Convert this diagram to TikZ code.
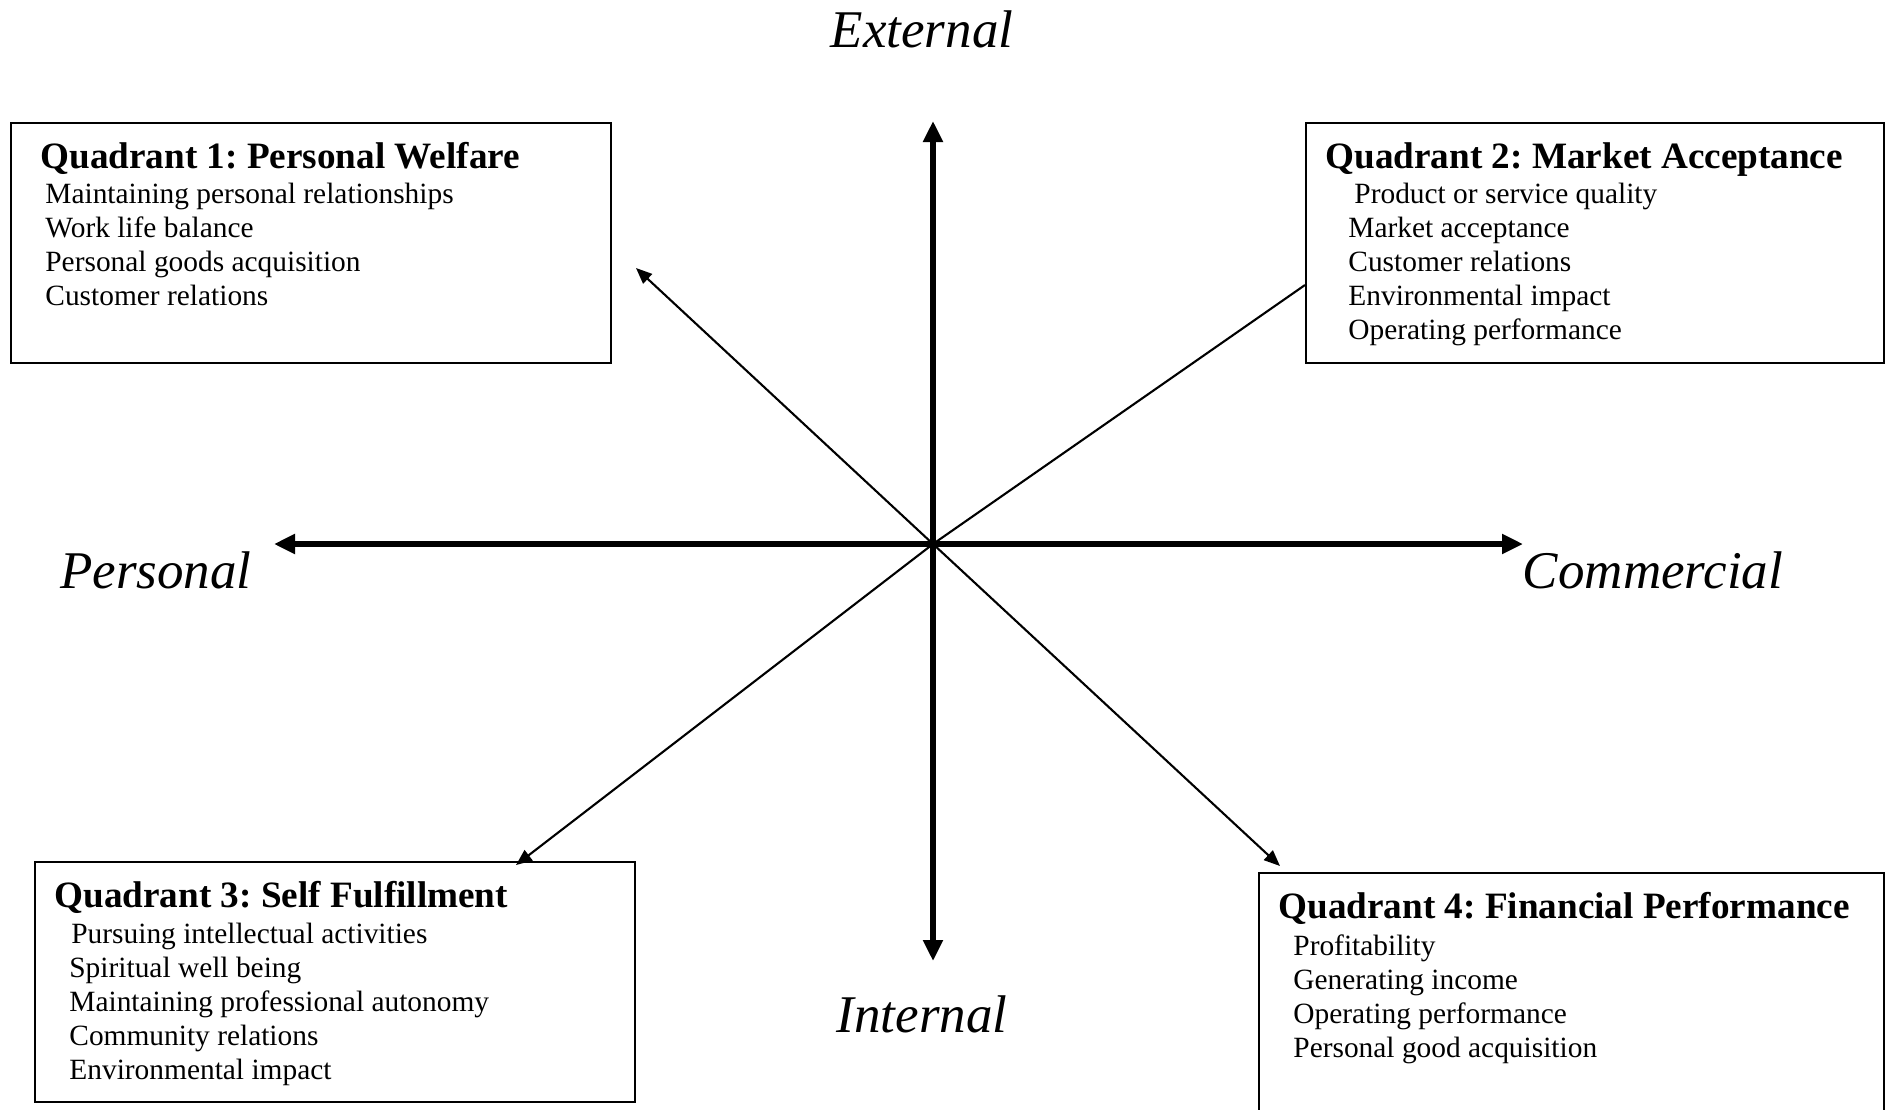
\documentclass[tikz,border=0pt]{standalone}
\usepackage{fontspec}
\setmainfont{Liberation Serif}
\usetikzlibrary{arrows.meta}
\frenchspacing
\begin{document}
\begin{tikzpicture}[x=0.5pt,y=-0.5pt,
  quadbox/.style={draw, line width=1pt, rectangle, inner sep=0pt, anchor=north west},
  axis/.style={line width=2.6pt, -{Triangle[length=10.5pt,width=9.5pt]}},
  spoke/.style={line width=1.05pt, -{Triangle[length=8pt,width=6.5pt]}},
  heading/.style={font=\bfseries\fontsize{18.6}{22}\selectfont, anchor=base west, inner sep=0pt},
  item/.style={font=\fontsize{14.7}{17}\selectfont, anchor=base west, inner sep=0pt},
  pole/.style={font=\itshape\fontsize{26.5}{30}\selectfont, anchor=base, inner sep=0pt}]
\useasboundingbox (0,0) rectangle (1891,1109);
\clip (0,0) rectangle (1891,1109);

% quadrant boxes
\node[quadbox, minimum width=300pt, minimum height=120pt] (q1box) at (10,122) {};
\node[quadbox, minimum width=289pt, minimum height=120pt] (q2box) at (1305,122) {};
\node[quadbox, minimum width=300pt, minimum height=120pt] (q3box) at (34,861) {};
\node[quadbox, minimum width=312.5pt, minimum height=134pt] (q4box) at (1258,872) {};

% quadrant 1
\node[heading] (q1t) at (40,168) {Quadrant 1: Personal Welfare};
\node[item] (q1a) at (45,203) {Maintaining personal relationships};
\node[item] (q1b) at (45,237) {Work life balance};
\node[item] (q1c) at (45,271) {Personal goods acquisition};
\node[item] (q1d) at (45,305) {Customer relations};

% quadrant 2
\node[heading] (q2t) at (1325,168) {Quadrant 2: Market Acceptance};
\node[item] (q2a) at (1354,203) {Product or service quality};
\node[item] (q2b) at (1348,237) {Market acceptance};
\node[item] (q2c) at (1348,271) {Customer relations};
\node[item] (q2d) at (1348,305) {Environmental impact};
\node[item] (q2e) at (1348,339) {Operating performance};

% quadrant 3
\node[heading] (q3t) at (54,907) {Quadrant 3: Self Fulfillment};
\node[item] (q3a) at (71,943) {Pursuing intellectual activities};
\node[item] (q3b) at (69,977) {Spiritual well being};
\node[item] (q3c) at (69,1011) {Maintaining professional autonomy};
\node[item] (q3d) at (69,1045) {Community relations};
\node[item] (q3e) at (69,1079) {Environmental impact};

% quadrant 4
\node[heading] (q4t) at (1278,918) {Quadrant 4: Financial Performance};
\node[item] (q4a) at (1293,955) {Profitability};
\node[item] (q4b) at (1293,989) {Generating income};
\node[item] (q4c) at (1293,1023) {Operating performance};
\node[item] (q4d) at (1293,1057) {Personal good acquisition};

% pole labels
\node[pole] (ext) at (922,47) {External};
\node[pole] (int) at (922,1032) {Internal};
\node[pole] (pers) at (156,588) {Personal};
\node[pole] (comm) at (1653,588) {Commercial};

% axis ends and spoke ends
\coordinate (o) at (933,544);
\coordinate (top) at (933,121);
\coordinate (bot) at (933,961);
\coordinate (lft) at (274,544);
\coordinate (rgt) at (1523,544);
\coordinate (s1) at (636,268);
\coordinate (s2) at (1305,285);
\coordinate (s3) at (516,865);
\coordinate (s4) at (1280,866);

% spokes
\draw[spoke] (o) -- (s1);
\draw[line width=1.05pt] (o) -- (s2);
\draw[spoke] (o) -- (s3);
\draw[spoke] (o) -- (s4);

% main axes
\draw[axis] (o) -- (top);
\draw[axis] (o) -- (bot);
\draw[axis] (o) -- (lft);
\draw[axis] (o) -- (rgt);
\end{tikzpicture}
\end{document}
